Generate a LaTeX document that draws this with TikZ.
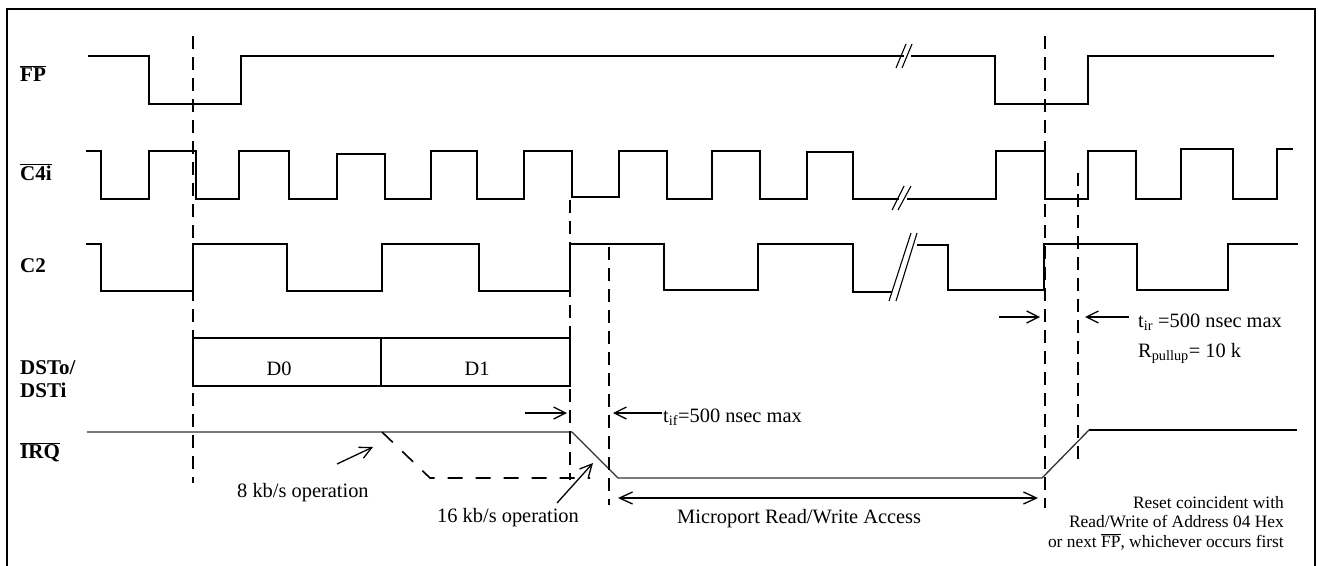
\documentclass[tikz,border=0pt]{standalone}
\usepackage{fontspec}
\setmainfont{Liberation Serif}
\usetikzlibrary{arrows.meta}
\newcommand\ovl[1]{$\overline{\hbox{#1}}$}
\begin{document}
\begin{tikzpicture}[x=1pt,y=-1pt,
  wave/.style={line width=2pt, line join=miter},
  thinwave/.style={line width=1.3pt, black!80},
  brk/.style={line width=1.1pt},
  dashv/.style={line width=2pt, dash pattern=on 13pt off 8pt},
  arr/.style={line width=1.3pt, -{Straight Barb[length=12pt,width=12pt,line width=1.3pt]}},
  sig/.style={font=\fontsize{21}{25}\selectfont\bfseries, anchor=base west, inner sep=0pt},
  txt/.style={font=\fontsize{20.4}{24}\selectfont, anchor=base west, inner sep=0pt},
  small/.style={font=\fontsize{17.4}{19.6}\selectfont, align=right, anchor=north east, inner sep=0pt}]
\useasboundingbox (0,0) rectangle (1319,565);
\fill[white] (0,0) rectangle (1319,565);
% frame
\draw[line width=2pt] (7,570) -- (7,9) -- (1315,9) -- (1315,570);
% signal labels
\node[sig] (lfp) at (20,81) {\ovl{FP}};
\node[sig] (lc4) at (20,180) {\ovl{C4i}};
\node[sig] (lc2) at (20,272) {C2};
\node[sig] (lds) at (20,374) {DSTo/};
\node[sig] (ldi) at (20,397) {DSTi};
\node[sig] (lirq) at (20,458) {\ovl{IRQ}};
% FP
\draw[wave] (88,56) -- (149,56) -- (149,104) -- (241,104) -- (241,56) -- (904,56);
\draw[wave] (911,56) -- (995,56) -- (995,104) -- (1088,104) -- (1088,56) -- (1274,56);
\draw[brk] (896,68) -- (906,44);
\draw[brk] (902,68) -- (912,44);
% C4i
\draw[wave] (86,151) -- (101,151) -- (101,199) -- (149,199) -- (149,151) -- (196,151) -- (196,199) -- (239,199) -- (239,151) -- (289,151) -- (289,199) -- (337,199) -- (337,154) -- (385,154) -- (385,199) -- (431,199) -- (431,151) -- (477,151) -- (477,199) -- (524,199) -- (524,151) -- (572,151) -- (572,197) -- (619,197) -- (619,151) -- (667,151) -- (667,199) -- (712,199) -- (712,151) -- (760,151) -- (760,199) -- (807,199) -- (807,152) -- (853,152) -- (853,199) -- (899,199);
\draw[wave] (907,199) -- (996,199) -- (996,151) -- (1045,151) -- (1045,199) -- (1088,199) -- (1088,151) -- (1136,151) -- (1136,199) -- (1181,199) -- (1181,149) -- (1233,149) -- (1233,199) -- (1277,199) -- (1277,149) -- (1293,149);
\draw[brk] (892,210) -- (904,186);
\draw[brk] (898,210) -- (911,186);
% C2
\draw[wave] (86,244) -- (101,244) -- (101,291) -- (193,291) -- (193,244) -- (287,244) -- (287,291) -- (382,291) -- (382,244) -- (479,244) -- (479,291) -- (570,291) -- (570,244) -- (664,244) -- (664,290) -- (758,290) -- (758,244) -- (853,244) -- (853,292) -- (892,292);
\draw[wave] (917,245) -- (948,245) -- (948,290) -- (1044,290) -- (1044,244) -- (1137,244) -- (1137,290) -- (1228,290) -- (1228,244) -- (1298,244);
\draw[brk] (889,301) -- (911,233);
\draw[brk] (896,301) -- (917,233);
% DSTo/DSTi
\draw[wave] (193,386) rectangle (570,338);
\draw[wave] (381,338) -- (381,386);
\node[txt, anchor=base] (d0) at (279,375) {D0};
\node[txt, anchor=base] (d1) at (477,375) {D1};
% IRQ
\draw[thinwave] (87,432) -- (572,432) -- (618,478) -- (1042,478) -- (1089,430);
\draw[wave] (1089,430) -- (1297,430);
\draw[line width=1.6pt, dash pattern=on 15pt off 13pt] (382,432) -- (430,478) -- (590,478);
% dashed verticals
\draw[dashv] (193,36) -- (193,483);
\draw[dashv] (570,200) -- (570,480);
\draw[dashv] (609,247) -- (609,505);
\draw[dashv] (1045,36) -- (1045,508);
\draw[dashv] (1078,173) -- (1078,465);
% annotations
\node[txt] (t8) at (237,497) {8 kb/s operation};
\coordinate (a8s) at (337,464);
\coordinate (a8e) at (373,447);
\draw[arr] (a8s) -- (a8e);
\node[txt] (t16) at (437,522) {16 kb/s operation};
\coordinate (a16s) at (557,503);
\coordinate (a16e) at (593,463);
\draw[arr] (a16s) -- (a16e);
% t_if
\coordinate (tif1s) at (525,413);
\coordinate (tif1e) at (567,413);
\coordinate (tif2s) at (662,413);
\coordinate (tif2e) at (613,413);
\draw[arr] (tif1s) -- (tif1e);
\draw[arr] (tif2s) -- (tif2e);
\node[txt] (tif) at (663,422) {t\textsubscript{if}=500 nsec max};
% t_ir
\coordinate (tir1s) at (999,317);
\coordinate (tir1e) at (1040,317);
\coordinate (tir2s) at (1129,317);
\coordinate (tir2e) at (1085,317);
\draw[arr] (tir1s) -- (tir1e);
\draw[arr] (tir2s) -- (tir2e);
\node[txt] (tir) at (1138,327) {t\textsubscript{ir} =500 nsec max};
\node[txt] (rpu) at (1138,357) {R\textsubscript{pullup}= 10 k};
% microport
\coordinate (mps) at (618,498);
\coordinate (mpe) at (1038,498);
\draw[line width=2pt, {Straight Barb[length=13pt,width=12pt,line width=1.3pt]}-{Straight Barb[length=13pt,width=12pt,line width=1.3pt]}] (mps) -- (mpe);
\node[txt] (mp) at (677,523) {Microport Read/Write Access};
% reset note
\node[small] (reset) at (1284,496) {Reset coincident with\\Read/Write of Address 04 Hex\\or next \ovl{FP}, whichever occurs first};
\end{tikzpicture}
\end{document}
